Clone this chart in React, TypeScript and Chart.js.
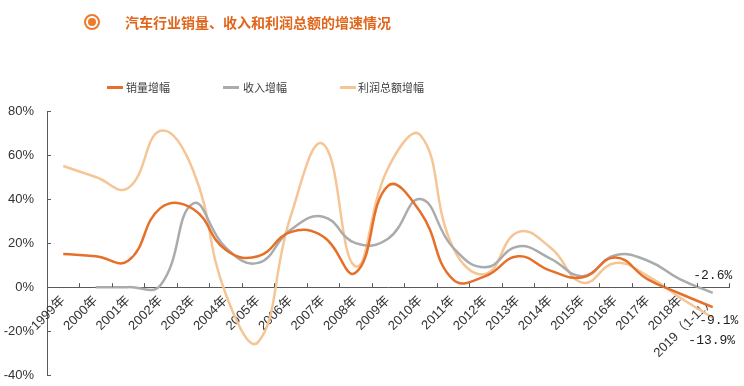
import React, { useEffect, useRef } from 'react';
import { Chart, registerables } from 'chart.js';

Chart.register(...registerables);

const titleText = '汽车行业销量、收入和利润总额的增速情况';
const seriesNames = ['销量增幅', '收入增幅', '利润总额增幅'];
const categories = [
  '1999年', '2000年', '2001年', '2002年', '2003年', '2004年', '2005年',
  '2006年', '2007年', '2008年', '2009年', '2010年', '2011年', '2012年',
  '2013年', '2014年', '2015年', '2016年', '2017年', '2018年', '2019（1-11）',
];
const salesGrowth = [15, 14, 12, 36, 35.5, 17, 14, 25, 23, 6.5, 46, 34, 3.5, 5, 14, 7.5, 4.5, 13.5, 3.5, -3, -9.1];
const revenueGrowth = [null, 0, 0, 1, 38, 18, 11, 26, 32, 20, 22, 40, 18, 9, 18.5, 13, 5, 14.5, 12, 3.5, -2.6];
const profitGrowth = [55, 50, 45, 71, 53, -3, -25, 32, 65, 9.5, 54, 69, 18, 6, 25, 18, 2, 11, 5, -4.8, -13.9];
const yTicks = [-40, -20, 0, 20, 40, 60, 80];

const seriesColors = ['#E6702A', '#ABABAB', '#F6C595'];

const innerTicksPlugin = {
  id: 'innerTicks',
  afterDraw(chart: any) {
    const { ctx } = chart;
    const x = chart.scales.x;
    const y = chart.scales.y;
    const left = chart.chartArea.left;
    const y0 = y.getPixelForValue(0);
    ctx.save();
    ctx.strokeStyle = '#595959';
    ctx.lineWidth = 1;
    ctx.beginPath();
    y.ticks.forEach((t: any) => {
      const py = Math.round(y.getPixelForValue(t.value)) + 0.5;
      ctx.moveTo(left, py);
      ctx.lineTo(left + 4, py);
    });
    for (let i = 0; i <= categories.length; i++) {
      const px = Math.round(x.getPixelForValue(i - 0.5)) + 0.5;
      ctx.moveTo(px, y0);
      ctx.lineTo(px, y0 - 4);
    }
    ctx.stroke();
    ctx.restore();
  },
};

const endLabelOffsets = [
  { dx: 6, dy: 13 },
  { dx: 0, dy: -17 },
  { dx: -1, dy: 23 },
];

const endLabelsPlugin = {
  id: 'endLabels',
  afterDatasetsDraw(chart: any) {
    const { ctx } = chart;
    ctx.save();
    ctx.font = '13px "Liberation Mono", "DejaVu Sans Mono", monospace';
    ctx.fillStyle = '#222';
    ctx.textAlign = 'center';
    ctx.textBaseline = 'middle';
    chart.data.datasets.forEach((ds: any, i: number) => {
      const meta = chart.getDatasetMeta(i);
      const last = ds.data.length - 1;
      const pt = meta.data[last];
      if (!pt) return;
      const v = ds.data[last];
      const off = endLabelOffsets[i];
      ctx.fillText(`${v.toFixed(1)}%`, pt.x + off.dx, pt.y + off.dy);
    });
    ctx.restore();
  },
};

const CANVAS_H = 396;

export default function App() {
  const canvasRef = useRef<HTMLCanvasElement | null>(null);

  useEffect(() => {
    const canvas = canvasRef.current;
    if (!canvas) return;
    const chart = new Chart(canvas, {
      type: 'line',
      data: {
        labels: categories,
        datasets: [
          { label: seriesNames[0], data: salesGrowth, borderColor: seriesColors[0], backgroundColor: seriesColors[0] },
          { label: seriesNames[1], data: revenueGrowth, borderColor: seriesColors[1], backgroundColor: seriesColors[1] },
          { label: seriesNames[2], data: profitGrowth, borderColor: seriesColors[2], backgroundColor: seriesColors[2] },
        ],
      },
      options: {
        responsive: false,
        animation: false,
        devicePixelRatio: 1,
        layout: { padding: { left: 0, right: 15, top: 111, bottom: 2 } },
        elements: {
          line: { borderWidth: 2.5, tension: 0.45, fill: false },
          point: { radius: 0, hoverRadius: 0 },
        },
        plugins: {
          legend: { display: false },
          title: { display: false },
          tooltip: { enabled: false },
        },
        scales: {
          y: {
            min: -40,
            max: 80,
            afterBuildTicks: (s: any) => {
              s.ticks = yTicks.map((v) => ({ value: v }));
            },
            afterFit: (s: any) => {
              s.width = 47;
            },
            grid: { display: false, drawTicks: false },
            border: { display: true, color: '#595959', width: 1 },
            ticks: {
              padding: 13,
              color: '#333',
              font: { family: '"Liberation Sans", Arial, sans-serif', size: 13 },
              callback: (v: any) => `${v}%`,
            },
          },
          x: {
            type: 'category',
            offset: true,
            position: { y: 0 },
            afterFit: (s: any) => {
              s.height = 0;
            },
            grid: { display: false, drawTicks: false, offset: true },
            border: { display: true, color: '#595959', width: 1 },
            ticks: {
              autoSkip: false,
              minRotation: 45,
              maxRotation: 45,
              padding: 6,
              color: '#333',
              font: { family: '"Liberation Sans", Arial, "Noto Sans CJK SC", sans-serif', size: 13 },
            },
          },
        },
      },
      plugins: [innerTicksPlugin, endLabelsPlugin],
    } as any);
    return () => chart.destroy();
  }, []);

  const legendItems = [
    { left: 107, textLeft: 126 },
    { left: 223, textLeft: 243 },
    { left: 340, textLeft: 358 },
  ];

  return (
    <div style={{ position: 'absolute', left: 0, top: 0, width: 744, height: 386, background: '#fff', overflow: 'hidden' }}>
      <canvas ref={canvasRef} width={744} height={CANVAS_H} style={{ position: 'absolute', left: 0, top: 0, width: 744, height: CANVAS_H }} />
      <div style={{ position: 'absolute', left: 84, top: 14, width: 16, height: 16, boxSizing: 'border-box', border: '2.5px solid #EE7B2C', borderRadius: '50%' }} />
      <div style={{ position: 'absolute', left: 88, top: 18, width: 8, height: 8, background: '#EE7B2C', borderRadius: '50%' }} />
      <div style={{ position: 'absolute', left: 125, top: 12, height: 20, lineHeight: '20px', fontFamily: '"Noto Sans CJK SC", sans-serif', fontWeight: 700, fontSize: 14, color: '#E0661B', whiteSpace: 'nowrap' }}>
        {titleText}
      </div>
      {seriesNames.map((name, i) => (
        <React.Fragment key={name}>
          <div style={{ position: 'absolute', left: legendItems[i].left, top: 86, width: 16, height: 2.5, background: seriesColors[i] }} />
          <div style={{ position: 'absolute', left: legendItems[i].textLeft, top: 79, height: 16, lineHeight: '16px', fontFamily: '"Noto Sans CJK SC", sans-serif', fontSize: 11, color: '#404040', whiteSpace: 'nowrap' }}>
            {name}
          </div>
        </React.Fragment>
      ))}
    </div>
  );
}
